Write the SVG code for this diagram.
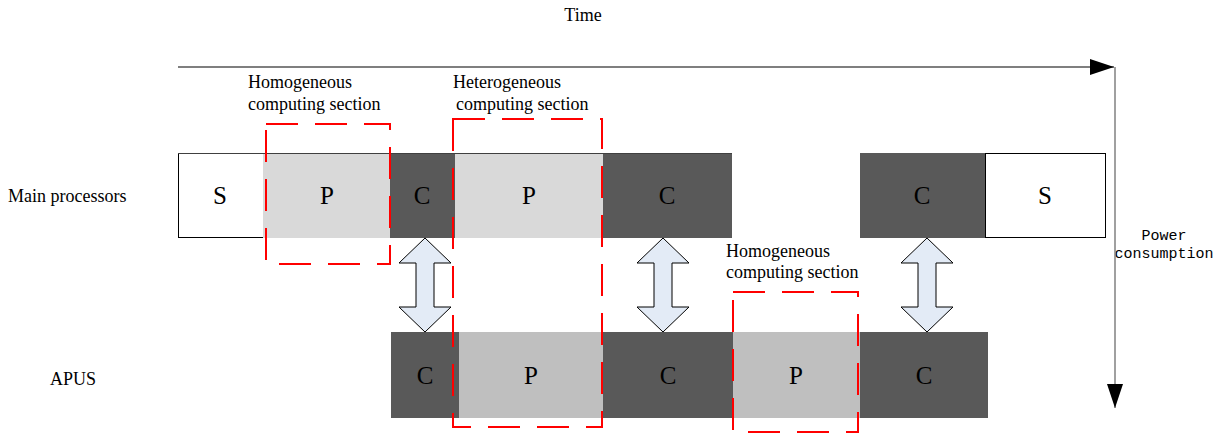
<svg xmlns="http://www.w3.org/2000/svg" width="1220" height="434" viewBox="0 0 1220 434">
<style>
.lbl{font-family:"Liberation Serif","Times New Roman",serif;font-size:18px;fill:#000}
.let{font-family:"Liberation Serif","Times New Roman",serif;font-size:25px;fill:#000;text-anchor:middle}
.mono{font-family:"Liberation Mono","Courier New",monospace;font-size:15px;fill:#000;text-anchor:middle}
.dk{fill:#595959}
.lg{fill:#d9d9d9}
.mg{fill:#bfbfbf}
.wh{fill:#fff;stroke:#000;stroke-width:1}
.edge{stroke:#404040;stroke-width:1;fill:none}
.red{fill:none;stroke:#ff0000;stroke-width:2;stroke-dasharray:32 17}
.dbl{fill:#e3ebf6;stroke:#000;stroke-width:1}
</style>
<defs>
<marker id="ah" markerWidth="24" markerHeight="16" refX="24" refY="8" orient="auto" markerUnits="userSpaceOnUse">
<path d="M0,0 L24,8 L0,16 Z" fill="#000"/>
</marker>
</defs>
<g id="labels">
<text class="lbl" x="583" y="21" text-anchor="middle">Time</text>
<text class="lbl" x="8" y="202">Main processors</text>
<text class="lbl" x="50" y="385">APUS</text>
<text class="mono" x="1164" y="240">Power</text>
<text class="mono" x="1164" y="258">consumption</text>
</g>
<g id="main-row">
<g id="m-s1"><rect class="wh" x="178.5" y="153.5" width="85" height="84"/><text class="let" x="220" y="204">S</text></g>
<g id="m-p1"><rect class="lg" x="263" y="153" width="127" height="85"/><text class="let" x="327" y="204">P</text></g>
<g id="m-c1"><rect class="dk" x="390" y="153" width="65" height="85"/><text class="let" x="422" y="204">C</text></g>
<g id="m-p2"><rect class="lg" x="455" y="153" width="148" height="85"/><text class="let" x="529" y="204">P</text></g>
<g id="m-c2"><rect class="dk" x="603" y="153" width="129" height="85"/><text class="let" x="667" y="204">C</text></g>
<g id="m-c3"><rect class="dk" x="860" y="153" width="125" height="85"/><text class="let" x="922" y="204">C</text></g>
<g id="m-s2"><rect class="wh" x="985.5" y="153.5" width="120" height="84"/><text class="let" x="1045" y="204">S</text></g>
<line class="edge" x1="178" y1="153.5" x2="732" y2="153.5"/>
</g>
<g id="apus-row">
<g id="a-c1"><rect class="dk" x="391" y="332" width="68" height="86"/><text class="let" x="425" y="384">C</text></g>
<g id="a-p1"><rect class="mg" x="459" y="332" width="144" height="86"/><text class="let" x="531" y="384">P</text></g>
<g id="a-c2"><rect class="dk" x="603" y="332" width="130" height="86"/><text class="let" x="668" y="384">C</text></g>
<g id="a-p2"><rect class="mg" x="733" y="332" width="127" height="86"/><text class="let" x="796" y="384">P</text></g>
<g id="a-c3"><rect class="dk" x="860" y="332" width="128" height="86"/><text class="let" x="924" y="384">C</text></g>
</g>
<g id="sec-homo1">
<rect class="red" x="266" y="124" width="124" height="140"/>
<text class="lbl" x="248" y="88">Homogeneous</text>
<text class="lbl" x="248" y="110">computing section</text>
</g>
<g id="sec-hetero">
<rect class="red" x="453" y="119" width="149" height="308"/>
<text class="lbl" x="453" y="88">Heterogeneous</text>
<text class="lbl" x="456" y="110">computing section</text>
</g>
<g id="sec-homo2">
<rect class="red" x="733" y="292" width="125" height="140"/>
<text class="lbl" x="726" y="257">Homogeneous</text>
<text class="lbl" x="726" y="278">computing section</text>
</g>
<g id="connectors">
<line x1="178" y1="67" x2="1114" y2="67" stroke="#000" stroke-width="1.2" marker-end="url(#ah)"/>
<line x1="1115" y1="67" x2="1115" y2="408" stroke="#808080" stroke-width="1.5" marker-end="url(#ah)"/>
<path class="dbl" d="M425,238 L451,263 L434,263 L434,307 L451,307 L425,332 L399,307 L416,307 L416,263 L399,263 Z"/>
<path class="dbl" d="M663,238 L689,263 L672,263 L672,307 L689,307 L663,332 L637,307 L654,307 L654,263 L637,263 Z"/>
<path class="dbl" d="M927,238 L953,263 L936,263 L936,307 L953,307 L927,332 L901,307 L918,307 L918,263 L901,263 Z"/>
</g>
</svg>
